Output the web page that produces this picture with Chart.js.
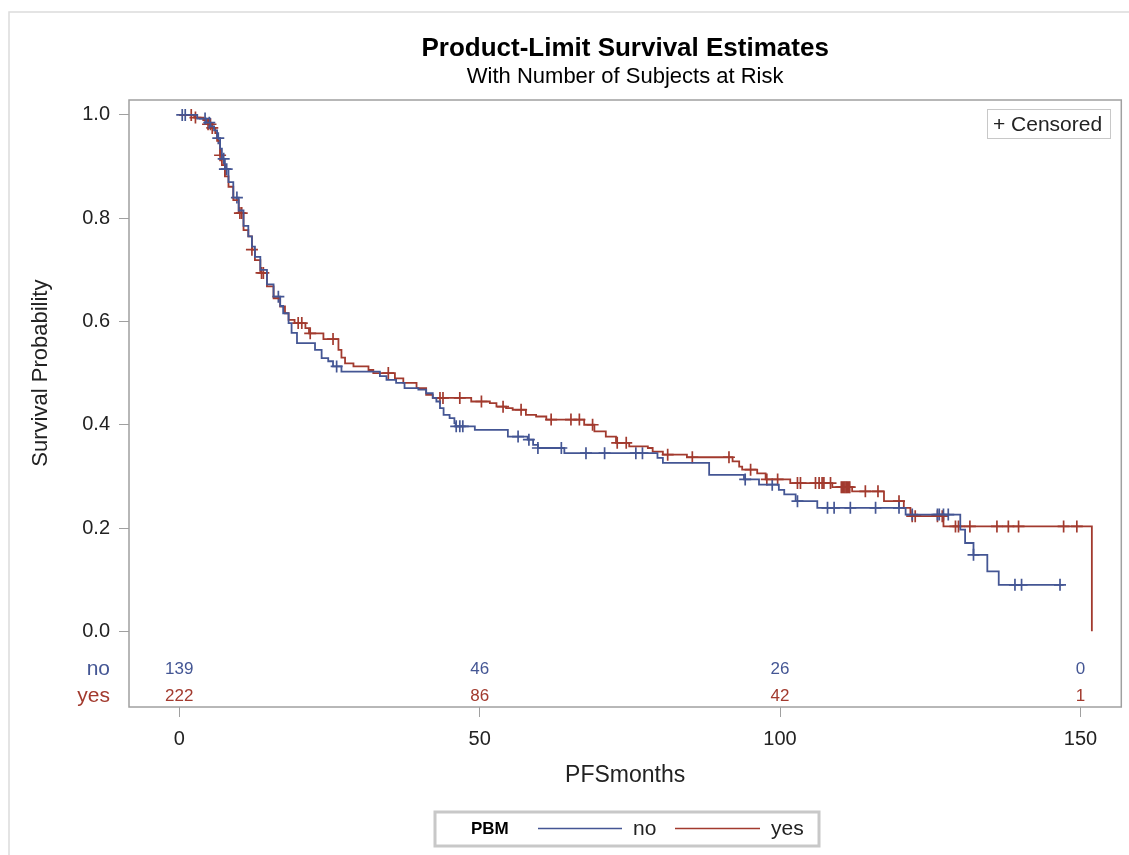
<!DOCTYPE html>
<html>
<head>
<meta charset="utf-8">
<title>Product-Limit Survival Estimates</title>
<script src="https://cdn.jsdelivr.net/npm/chart.js@4.4.1/dist/chart.umd.min.js"></script>
<style>
  html, body { margin: 0; padding: 0; background: #fff; }
  #wrap { width: 1129px; height: 855px; position: relative; }
</style>
</head>
<body>
<div id="wrap"><canvas id="km"></canvas></div>
<script>
// PBM = no : event times (months) and survival after each step
const noTimes = [0, 3.0, 4.5, 5.2, 5.8, 6.3, 6.8, 7.1, 7.6, 8.2, 9.0, 9.9, 10.7, 11.5, 12.1, 12.6, 13.5, 14.6, 15.7, 16.8,
  17.3, 18.2, 18.7, 19.6, 22.6, 23.7, 24.8, 25.6, 27.0, 33.4, 34.5, 36.1, 37.5, 39.8, 41.1, 42.2, 42.8, 43.4, 44.0, 45.0,
  45.8, 46.0, 49.2, 54.7, 58.0, 58.9, 59.7, 64.1, 79.6, 80.5, 88.2, 94.0, 96.5, 99.8, 100.7, 102.6, 106.2, 120.9, 130.0,
  130.8, 132.2, 134.5, 136.4, 147.2];
const noSurv = [1.0, 0.993, 0.985, 0.978, 0.970, 0.955, 0.935, 0.915, 0.895, 0.870, 0.840, 0.815, 0.785, 0.765, 0.745,
  0.725, 0.700, 0.672, 0.648, 0.630, 0.616, 0.597, 0.578, 0.558, 0.545, 0.529, 0.523, 0.513, 0.503, 0.494, 0.487, 0.481,
  0.471, 0.468, 0.461, 0.452, 0.445, 0.432, 0.419, 0.413, 0.403, 0.397, 0.390, 0.377, 0.371, 0.361, 0.355, 0.345, 0.336,
  0.326, 0.303, 0.294, 0.284, 0.274, 0.265, 0.252, 0.239, 0.226, 0.197, 0.171, 0.148, 0.116, 0.090, 0.090];
const noCensored = [0.5, 1.0, 4.3, 5.0, 6.5, 7.4, 7.6, 7.9, 9.6, 16.5, 26.2, 46.1, 46.7, 47.2, 56.4, 58.2, 59.7, 63.6,
  67.7, 70.8, 76.0, 77.1, 94.2, 98.7, 102.9, 107.9, 109.0, 111.7, 115.9, 119.8, 122.0, 126.2, 126.5, 127.2, 128.0,
  132.2, 139.1, 140.2, 146.6];

// PBM = yes
const yesTimes = [0, 2.5, 4.0, 4.8, 5.5, 6.0, 6.3, 6.8, 7.1, 7.6, 8.2, 9.0, 9.9, 10.7, 11.5, 12.1, 12.6, 13.5, 14.6,
  15.7, 16.8, 17.6, 18.2, 19.2, 21.0, 21.6, 24.0, 26.5, 27.0, 27.6, 29.0, 31.5, 32.3, 35.9, 37.3, 39.5, 41.1, 42.2,
  48.6, 51.7, 52.8, 54.4, 55.5, 57.7, 59.4, 61.1, 67.4, 69.1, 71.0, 72.7, 74.9, 78.0, 78.8, 80.5, 84.5, 92.1, 93.2,
  93.7, 96.2, 97.6, 101.7, 108.7, 112.0, 117.3, 120.6, 121.7, 127.2, 151.9];
const yesSurv = [1.0, 0.995, 0.990, 0.982, 0.975, 0.965, 0.950, 0.922, 0.903, 0.881, 0.861, 0.835, 0.810, 0.777, 0.765,
  0.739, 0.719, 0.694, 0.668, 0.645, 0.629, 0.616, 0.603, 0.597, 0.587, 0.577, 0.566, 0.545, 0.530, 0.519, 0.513, 0.506,
  0.500, 0.490, 0.481, 0.471, 0.458, 0.452, 0.445, 0.442, 0.435, 0.432, 0.429, 0.419, 0.416, 0.410, 0.400, 0.387, 0.377,
  0.365, 0.358, 0.355, 0.348, 0.342, 0.337, 0.329, 0.319, 0.313, 0.306, 0.294, 0.287, 0.279, 0.271, 0.252, 0.239, 0.223,
  0.203, 0.0];
const yesCensored = [2.0, 2.7, 4.8, 5.2, 5.5, 6.8, 10.1, 10.4, 12.1, 13.7, 14.0, 19.8, 20.4, 21.8, 25.6, 34.8, 43.4,
  43.9, 46.7, 50.3, 53.9, 56.9, 61.9, 65.2, 66.6, 68.8, 72.9, 74.4, 81.3, 85.4, 91.5, 95.1, 97.8, 99.6, 102.9, 103.4,
  105.9, 106.5, 107.0, 107.3, 108.4, 110.2, 110.4, 110.6, 110.8, 111.0, 111.2, 111.4, 111.6, 114.2, 116.3, 119.8, 122.0,
  122.5, 126.2, 127.0, 129.2, 129.7, 131.6, 136.1, 138.0, 139.7, 147.2, 149.4];

// number at risk table
const riskTimes = [0, 50, 100, 150];
const riskNo = [139, 46, 26, 0];
const riskYes = [222, 86, 42, 1];

const xTicks = [0, 50, 100, 150];
const yTicks = [0, 0.2, 0.4, 0.6, 0.8, 1.0];

const BLUE = '#445694';
const RED = '#A23A2E';
const FONT = '"Liberation Sans", Arial, sans-serif';

function toPoints(times, surv) {
    return times.map((t, i) => ({ x: t, y: surv[i] }));
}

// a censored mark sits on the curve at its time
function survAt(times, surv, t) {
    let s = surv[0];
    for (let i = 0; i < times.length; i++) {
        if (times[i] <= t) s = surv[i];
    }
    return s;
}

function censorPoints(cens, times, surv) {
    return cens.map(t => ({ x: t, y: survAt(times, surv, t) }));
}

const kmDecor = {
    id: 'kmDecor',
    afterDraw(chart) {
        const ctx = chart.ctx;
        const a = chart.chartArea;
        const xs = chart.scales.x;
        const ys = chart.scales.y;
        const midX = (a.left + a.right) / 2;
        ctx.save();

        // outer frame
        ctx.strokeStyle = '#dcdcdc';
        ctx.lineWidth = 1.5;
        ctx.beginPath();
        ctx.moveTo(9, 855);
        ctx.lineTo(9, 12);
        ctx.lineTo(1129, 12);
        ctx.stroke();

        // plot frame
        ctx.strokeStyle = '#a0a0a0';
        ctx.lineWidth = 1.5;
        ctx.strokeRect(a.left, a.top, a.right - a.left, a.bottom - a.top);

        // titles
        ctx.fillStyle = '#000';
        ctx.textAlign = 'center';
        ctx.textBaseline = 'alphabetic';
        ctx.font = 'bold 26px ' + FONT;
        ctx.fillText('Product-Limit Survival Estimates', midX, 56);
        ctx.font = '22px ' + FONT;
        ctx.fillText('With Number of Subjects at Risk', midX, 83);

        // axis titles
        ctx.fillStyle = '#222';
        ctx.font = '23px ' + FONT;
        ctx.textBaseline = 'middle';
        ctx.fillText('PFSmonths', midX, 776);
        ctx.save();
        ctx.translate(41, (ys.getPixelForValue(0) + ys.getPixelForValue(1)) / 2);
        ctx.rotate(-Math.PI / 2);
        ctx.font = '22px ' + FONT;
        ctx.fillText('Survival Probability', 0, 0);
        ctx.restore();

        // number at risk
        const rows = [
            { label: 'no', values: riskNo, color: BLUE, y: 669 },
            { label: 'yes', values: riskYes, color: RED, y: 696 }
        ];
        rows.forEach(row => {
            ctx.fillStyle = row.color;
            ctx.textAlign = 'right';
            ctx.font = '21px ' + FONT;
            ctx.fillText(row.label, 110, row.y);
            ctx.textAlign = 'center';
            ctx.font = '17px ' + FONT;
            riskTimes.forEach((t, i) => {
                ctx.fillText(String(row.values[i]), xs.getPixelForValue(t), row.y);
            });
        });

        // censored inset legend
        ctx.strokeStyle = '#c8c8c8';
        ctx.lineWidth = 1;
        ctx.strokeRect(987.5, 109.5, 123, 29);
        ctx.fillStyle = '#222';
        ctx.textAlign = 'left';
        ctx.font = '21px ' + FONT;
        ctx.fillText('+ Censored', 993, 125);

        // group legend at the bottom
        ctx.strokeStyle = '#c8c8c8';
        ctx.lineWidth = 3;
        ctx.strokeRect(435, 812, 384, 34);
        ctx.fillStyle = '#000';
        ctx.font = 'bold 17px ' + FONT;
        ctx.fillText('PBM', 471, 829);
        const items = [
            { ds: chart.data.datasets[0], x0: 538, x1: 622, tx: 633 },
            { ds: chart.data.datasets[1], x0: 675, x1: 760, tx: 771 }
        ];
        items.forEach(it => {
            ctx.strokeStyle = it.ds.borderColor;
            ctx.lineWidth = 1.5;
            ctx.beginPath();
            ctx.moveTo(it.x0, 828.5);
            ctx.lineTo(it.x1, 828.5);
            ctx.stroke();
            ctx.fillStyle = '#222';
            ctx.font = '21px ' + FONT;
            ctx.fillText(it.ds.label, it.tx, 829);
        });

        ctx.restore();
    }
};

const ctx = document.getElementById('km').getContext('2d');

new Chart(ctx, {
    type: 'line',
    data: {
        datasets: [
            {
                label: 'no',
                data: toPoints(noTimes, noSurv),
                borderColor: BLUE,
                borderWidth: 1.8,
                stepped: 'before',
                pointRadius: 0,
                fill: false
            },
            {
                label: 'yes',
                data: toPoints(yesTimes, yesSurv),
                borderColor: RED,
                borderWidth: 1.8,
                stepped: 'before',
                pointRadius: 0,
                fill: false
            },
            {
                label: 'no censored',
                data: censorPoints(noCensored, noTimes, noSurv),
                showLine: false,
                pointStyle: 'cross',
                pointRadius: 6,
                pointBorderWidth: 1.7,
                borderColor: BLUE,
                backgroundColor: BLUE
            },
            {
                label: 'yes censored',
                data: censorPoints(yesCensored, yesTimes, yesSurv),
                showLine: false,
                pointStyle: 'cross',
                pointRadius: 6,
                pointBorderWidth: 1.7,
                borderColor: RED,
                backgroundColor: RED
            }
        ]
    },
    options: {
        responsive: true,
        maintainAspectRatio: false,
        animation: false,
        layout: {
            padding: { top: 100, right: 6, left: 0, bottom: 0 }
        },
        plugins: {
            legend: { display: false },
            title: { display: false },
            tooltip: { enabled: false }
        },
        scales: {
            x: {
                type: 'linear',
                min: -8.36,
                max: 156.8,
                afterBuildTicks: scale => {
                    scale.ticks = xTicks.map(v => ({ value: v }));
                },
                afterFit: scale => {
                    scale.height = 148;
                },
                grid: {
                    drawOnChartArea: false,
                    drawTicks: true,
                    tickLength: 10,
                    color: '#a0a0a0'
                },
                border: { display: false },
                ticks: {
                    padding: 10,
                    color: '#222',
                    font: { family: FONT, size: 20 },
                    maxRotation: 0,
                    autoSkip: false
                }
            },
            y: {
                min: -0.1467,
                max: 1.029,
                afterBuildTicks: scale => {
                    scale.ticks = yTicks.map(v => ({ value: v }));
                },
                afterFit: scale => {
                    scale.width = 129;
                },
                grid: {
                    drawOnChartArea: false,
                    drawTicks: true,
                    tickLength: 10,
                    color: '#a0a0a0'
                },
                border: { display: false },
                ticks: {
                    padding: 9,
                    color: '#222',
                    font: { family: FONT, size: 20 },
                    callback: v => v.toFixed(1),
                    autoSkip: false
                }
            }
        }
    },
    plugins: [kmDecor]
});
</script>
</body>
</html>
